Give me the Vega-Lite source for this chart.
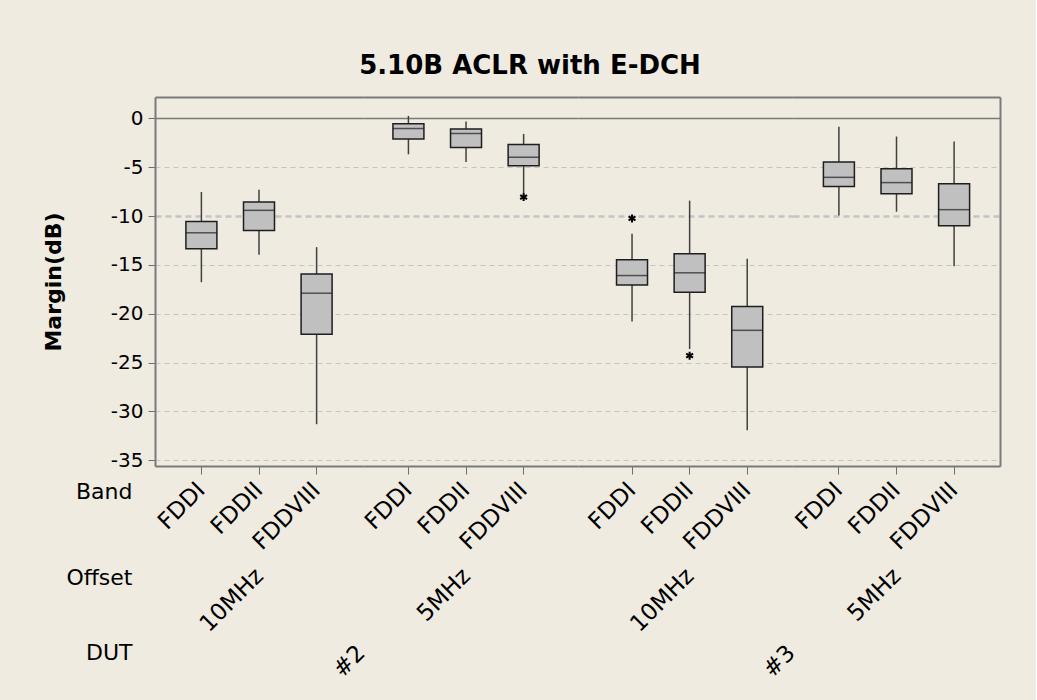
{
  "$schema": "https://vega.github.io/schema/vega-lite/v6.json",
  "background": "#EFEBE1",
  "padding": {"left": 42, "top": 53, "right": 36, "bottom": 20},
  "title": {"text": "5.10B ACLR with E-DCH", "font": "DejaVu Sans", "fontSize": 26, "fontWeight": "bold", "color": "black", "anchor": "middle", "frame": "group", "offset": 18, "dx": 375},
  "config": {
    "view": {"stroke": null},
    "axis": {"labelFont": "DejaVu Sans", "titleFont": "DejaVu Sans", "labelColor": "black", "titleColor": "black"}
  },
  "datasets": {
    "boxes": [
      {"DUT": "#2", "Offset": "10MHz", "Band": "FDDI", "lo": -16.77, "q1": -13.35, "med": -11.71, "q3": -10.55, "hi": -7.53},
      {"DUT": "#2", "Offset": "10MHz", "Band": "FDDII", "lo": -13.97, "q1": -11.47, "med": -9.41, "q3": -8.56, "hi": -7.29},
      {"DUT": "#2", "Offset": "10MHz", "Band": "FDDVIII", "lo": -31.32, "q1": -22.11, "med": -17.9, "q3": -15.92, "hi": -13.18},
      {"DUT": "#2", "Offset": "5MHz", "Band": "FDDI", "lo": -3.67, "q1": -2.09, "med": -1.03, "q3": -0.55, "hi": 0.27},
      {"DUT": "#2", "Offset": "5MHz", "Band": "FDDII", "lo": -4.45, "q1": -2.98, "med": -1.54, "q3": -1.07, "hi": -0.31},
      {"DUT": "#2", "Offset": "5MHz", "Band": "FDDVIII", "lo": -7.7, "q1": -4.83, "med": -3.97, "q3": -2.67, "hi": -1.58},
      {"DUT": "#3", "Offset": "10MHz", "Band": "FDDI", "lo": -20.81, "q1": -17.05, "med": -16.09, "q3": -14.48, "hi": -11.81},
      {"DUT": "#3", "Offset": "10MHz", "Band": "FDDII", "lo": -23.62, "q1": -17.8, "med": -15.81, "q3": -13.86, "hi": -8.42},
      {"DUT": "#3", "Offset": "10MHz", "Band": "FDDVIII", "lo": -31.93, "q1": -25.46, "med": -21.7, "q3": -19.27, "hi": -14.37},
      {"DUT": "#3", "Offset": "5MHz", "Band": "FDDI", "lo": -9.93, "q1": -6.98, "med": -6.03, "q3": -4.45, "hi": -0.86},
      {"DUT": "#3", "Offset": "5MHz", "Band": "FDDII", "lo": -9.55, "q1": -7.7, "med": -6.57, "q3": -5.14, "hi": -1.85},
      {"DUT": "#3", "Offset": "5MHz", "Band": "FDDVIII", "lo": -15.13, "q1": -10.99, "med": -9.34, "q3": -6.68, "hi": -2.36}
    ],
    "outliers": [
      {"DUT": "#2", "Offset": "5MHz", "Band": "FDDVIII", "v": -8.05},
      {"DUT": "#3", "Offset": "10MHz", "Band": "FDDI", "v": -10.24},
      {"DUT": "#3", "Offset": "10MHz", "Band": "FDDII", "v": -24.3}
    ]
  },
  "spacing": 0,
  "bounds": "flush",
  "hconcat": [
    {
      "width": 208, "height": 369,
      "resolve": {"axis": {"x": "independent", "y": "independent"}},
      "layer": [
        {"data": {"name": "boxes"}, "transform": [{"filter": "datum.DUT === '#2' && datum.Offset === '10MHz'"}],
         "mark": {"type": "rule", "stroke": "#404040", "strokeWidth": 1.5},
         "encoding": {
           "x": {"field": "Band", "type": "nominal", "scale": {"domain": ["FDDI", "FDDII", "FDDVIII"], "paddingInner": 0.462, "paddingOuter": 0.5365, "align": 0.5, "round": false},
             "axis": {"orient": "bottom", "domain": true, "domainColor": "#7A7A7A", "domainWidth": 2, "ticks": true, "tickColor": "#6E6E6E", "tickSize": 8, "labelAngle": 315, "labelAlign": "right", "labelBaseline": "middle", "labelPadding": 12, "labelFontSize": 23, "grid": false,
               "title": "Band", "titleFontSize": 22, "titleFontWeight": "normal", "titleAlign": "right", "titleAngle": 0, "titleBaseline": "top", "titleX": -23, "titleY": 15}},
           "y": {"field": "lo", "type": "quantitative", "scale": {"domain": [-35.6, 2.2], "nice": false, "zero": false},
             "axis": {"values": [-35, -30, -25, -20, -15, -10, -5, 0, 2.2], "labelExpr": "datum.value > 1 ? '' : '' + datum.value",
               "grid": true,
               "gridColor": {"condition": {"test": "datum.value > 1 || datum.value === 0", "value": "#7A7A7A"}, "value": "#C4C4C4"},
               "gridDash": {"condition": [{"test": "datum.value > 1 || datum.value === 0", "value": []}, {"test": "datum.value === -10", "value": [6, 4]}], "value": [5, 4]},
               "gridWidth": {"condition": [{"test": "datum.value > 1", "value": 2}, {"test": "datum.value === 0", "value": 1.5}, {"test": "datum.value === -10", "value": 2.5}], "value": 1},
               "domain": true, "domainColor": "#7A7A7A", "domainWidth": 2, "ticks": true, "tickColor": "#6E6E6E", "tickSize": 7,
               "tickOpacity": {"condition": {"test": "datum.value > 1", "value": 0}, "value": 1},
               "labelFontSize": 20, "labelPadding": 5, "title": "Margin(dB)", "titleFontSize": 22, "titleFontWeight": "bold", "titlePadding": 45}},
           "y2": {"field": "hi"}}},
        {"data": {"name": "boxes"}, "transform": [{"filter": "datum.DUT === '#2' && datum.Offset === '10MHz'"}],
         "mark": {"type": "bar", "fill": "#C0C0C0", "stroke": "#1E1E1E", "strokeWidth": 1.5},
         "encoding": {
           "x": {"field": "Band", "type": "nominal", "scale": {"domain": ["FDDI", "FDDII", "FDDVIII"], "paddingInner": 0.462, "paddingOuter": 0.5365, "align": 0.5, "round": false},
             "axis": {"orient": "bottom", "domain": false, "ticks": false, "labels": false, "grid": false,
               "title": ["Offset", "DUT"], "titleFontSize": 22, "titleFontWeight": "normal", "titleAlign": "right", "titleAngle": 0, "titleBaseline": "top", "titleX": -23, "titleY": 101.5, "titleLineHeight": 74.7}},
           "y": {"field": "q1", "type": "quantitative", "scale": {"domain": [-35.6, 2.2], "nice": false, "zero": false}, "axis": null},
           "y2": {"field": "q3"}}},
        {"data": {"name": "boxes"}, "transform": [{"filter": "datum.DUT === '#2' && datum.Offset === '10MHz'"}],
         "mark": {"type": "tick", "color": "#1E1E1E", "thickness": 1.5, "size": 31},
         "encoding": {
           "x": {"field": "Band", "type": "nominal", "scale": {"domain": ["FDDI", "FDDII", "FDDVIII"], "paddingInner": 0.462, "paddingOuter": 0.5365, "align": 0.5, "round": false},
             "axis": {"orient": "bottom", "domain": false, "ticks": false, "labels": false, "grid": false, "title": "10MHz", "titleFontSize": 23, "titleFontWeight": "normal", "titleAngle": 315, "titleAlign": "right", "titleBaseline": "middle", "titleX": 104, "titleY": 106}},
           "y": {"field": "med", "type": "quantitative", "scale": {"domain": [-35.6, 2.2], "nice": false, "zero": false}, "axis": null}}},
        {"data": {"name": "outliers"}, "transform": [{"filter": "datum.DUT === '#2' && datum.Offset === '10MHz'"}],
         "mark": {"type": "point", "shape": "M0,-1L0,1M-0.866,-0.5L0.866,0.5M-0.866,0.5L0.866,-0.5", "filled": false, "stroke": "black", "strokeWidth": 2, "size": 64, "opacity": 1},
         "encoding": {
           "x": {"field": "Band", "type": "nominal", "scale": {"domain": ["FDDI", "FDDII", "FDDVIII"], "paddingInner": 0.462, "paddingOuter": 0.5365, "align": 0.5, "round": false},
             "axis": {"orient": "bottom", "domain": false, "ticks": false, "labels": false, "grid": false, "title": "#2", "titleFontSize": 23, "titleFontWeight": "normal", "titleAngle": 315, "titleAlign": "right", "titleBaseline": "middle", "titleX": 206, "titleY": 183}},
           "y": {"field": "v", "type": "quantitative", "scale": {"domain": [-35.6, 2.2], "nice": false, "zero": false}, "axis": null}}}
      ]
    },
    {
      "width": 215, "height": 369,
      "resolve": {"axis": {"x": "independent", "y": "independent"}},
      "layer": [
        {"data": {"name": "boxes"}, "transform": [{"filter": "datum.DUT === '#2' && datum.Offset === '5MHz'"}],
         "mark": {"type": "rule", "stroke": "#404040", "strokeWidth": 1.5},
         "encoding": {
           "x": {"field": "Band", "type": "nominal", "scale": {"domain": ["FDDI", "FDDII", "FDDVIII"], "paddingInner": 0.462, "paddingOuter": 0.5973, "align": 0.435, "round": false},
             "axis": {"orient": "bottom", "domain": true, "domainColor": "#7A7A7A", "domainWidth": 2, "ticks": true, "tickColor": "#6E6E6E", "tickSize": 8, "labelAngle": 315, "labelAlign": "right", "labelBaseline": "middle", "labelPadding": 12, "labelFontSize": 23, "grid": false, "title": null}},
           "y": {"field": "lo", "type": "quantitative", "scale": {"domain": [-35.6, 2.2], "nice": false, "zero": false},
             "axis": {"values": [-35, -30, -25, -20, -15, -10, -5, 0, 2.2], "grid": true,
               "gridColor": {"condition": {"test": "datum.value > 1 || datum.value === 0", "value": "#7A7A7A"}, "value": "#C4C4C4"},
               "gridDash": {"condition": [{"test": "datum.value > 1 || datum.value === 0", "value": []}, {"test": "datum.value === -10", "value": [6, 4]}], "value": [5, 4]},
               "gridWidth": {"condition": [{"test": "datum.value > 1", "value": 2}, {"test": "datum.value === 0", "value": 1.5}, {"test": "datum.value === -10", "value": 2.5}], "value": 1},
               "domain": false, "ticks": false, "labels": false, "title": null}},
           "y2": {"field": "hi"}}},
        {"data": {"name": "boxes"}, "transform": [{"filter": "datum.DUT === '#2' && datum.Offset === '5MHz'"}],
         "mark": {"type": "bar", "fill": "#C0C0C0", "stroke": "#1E1E1E", "strokeWidth": 1.5},
         "encoding": {
           "x": {"field": "Band", "type": "nominal", "scale": {"domain": ["FDDI", "FDDII", "FDDVIII"], "paddingInner": 0.462, "paddingOuter": 0.5973, "align": 0.435, "round": false}, "axis": null},
           "y": {"field": "q1", "type": "quantitative", "scale": {"domain": [-35.6, 2.2], "nice": false, "zero": false}, "axis": null},
           "y2": {"field": "q3"}}},
        {"data": {"name": "boxes"}, "transform": [{"filter": "datum.DUT === '#2' && datum.Offset === '5MHz'"}],
         "mark": {"type": "tick", "color": "#1E1E1E", "thickness": 1.5, "size": 31},
         "encoding": {
           "x": {"field": "Band", "type": "nominal", "scale": {"domain": ["FDDI", "FDDII", "FDDVIII"], "paddingInner": 0.462, "paddingOuter": 0.5973, "align": 0.435, "round": false},
             "axis": {"orient": "bottom", "domain": false, "ticks": false, "labels": false, "grid": false, "title": "5MHz", "titleFontSize": 23, "titleFontWeight": "normal", "titleAngle": 315, "titleAlign": "right", "titleBaseline": "middle", "titleX": 103, "titleY": 106}},
           "y": {"field": "med", "type": "quantitative", "scale": {"domain": [-35.6, 2.2], "nice": false, "zero": false}, "axis": null}}},
        {"data": {"name": "outliers"}, "transform": [{"filter": "datum.DUT === '#2' && datum.Offset === '5MHz'"}],
         "mark": {"type": "point", "shape": "M0,-1L0,1M-0.866,-0.5L0.866,0.5M-0.866,0.5L0.866,-0.5", "filled": false, "stroke": "black", "strokeWidth": 2, "size": 64, "opacity": 1},
         "encoding": {
           "x": {"field": "Band", "type": "nominal", "scale": {"domain": ["FDDI", "FDDII", "FDDVIII"], "paddingInner": 0.462, "paddingOuter": 0.5973, "align": 0.435, "round": false}, "axis": null},
           "y": {"field": "v", "type": "quantitative", "scale": {"domain": [-35.6, 2.2], "nice": false, "zero": false}, "axis": null}}}
      ]
    },
    {
      "width": 215, "height": 369,
      "resolve": {"axis": {"x": "independent", "y": "independent"}},
      "layer": [
        {"data": {"name": "boxes"}, "transform": [{"filter": "datum.DUT === '#3' && datum.Offset === '10MHz'"}],
         "mark": {"type": "rule", "stroke": "#404040", "strokeWidth": 1.5},
         "encoding": {
           "x": {"field": "Band", "type": "nominal", "scale": {"domain": ["FDDI", "FDDII", "FDDVIII"], "paddingInner": 0.462, "paddingOuter": 0.5973, "align": 0.56, "round": false},
             "axis": {"orient": "bottom", "domain": true, "domainColor": "#7A7A7A", "domainWidth": 2, "ticks": true, "tickColor": "#6E6E6E", "tickSize": 8, "labelAngle": 315, "labelAlign": "right", "labelBaseline": "middle", "labelPadding": 12, "labelFontSize": 23, "grid": false, "title": null}},
           "y": {"field": "lo", "type": "quantitative", "scale": {"domain": [-35.6, 2.2], "nice": false, "zero": false},
             "axis": {"values": [-35, -30, -25, -20, -15, -10, -5, 0, 2.2], "grid": true,
               "gridColor": {"condition": {"test": "datum.value > 1 || datum.value === 0", "value": "#7A7A7A"}, "value": "#C4C4C4"},
               "gridDash": {"condition": [{"test": "datum.value > 1 || datum.value === 0", "value": []}, {"test": "datum.value === -10", "value": [6, 4]}], "value": [5, 4]},
               "gridWidth": {"condition": [{"test": "datum.value > 1", "value": 2}, {"test": "datum.value === 0", "value": 1.5}, {"test": "datum.value === -10", "value": 2.5}], "value": 1},
               "domain": false, "ticks": false, "labels": false, "title": null}},
           "y2": {"field": "hi"}}},
        {"data": {"name": "boxes"}, "transform": [{"filter": "datum.DUT === '#3' && datum.Offset === '10MHz'"}],
         "mark": {"type": "bar", "fill": "#C0C0C0", "stroke": "#1E1E1E", "strokeWidth": 1.5},
         "encoding": {
           "x": {"field": "Band", "type": "nominal", "scale": {"domain": ["FDDI", "FDDII", "FDDVIII"], "paddingInner": 0.462, "paddingOuter": 0.5973, "align": 0.56, "round": false}, "axis": null},
           "y": {"field": "q1", "type": "quantitative", "scale": {"domain": [-35.6, 2.2], "nice": false, "zero": false}, "axis": null},
           "y2": {"field": "q3"}}},
        {"data": {"name": "boxes"}, "transform": [{"filter": "datum.DUT === '#3' && datum.Offset === '10MHz'"}],
         "mark": {"type": "tick", "color": "#1E1E1E", "thickness": 1.5, "size": 31},
         "encoding": {
           "x": {"field": "Band", "type": "nominal", "scale": {"domain": ["FDDI", "FDDII", "FDDVIII"], "paddingInner": 0.462, "paddingOuter": 0.5973, "align": 0.56, "round": false},
             "axis": {"orient": "bottom", "domain": false, "ticks": false, "labels": false, "grid": false, "title": "10MHz", "titleFontSize": 23, "titleFontWeight": "normal", "titleAngle": 315, "titleAlign": "right", "titleBaseline": "middle", "titleX": 111.5, "titleY": 106}},
           "y": {"field": "med", "type": "quantitative", "scale": {"domain": [-35.6, 2.2], "nice": false, "zero": false}, "axis": null}}},
        {"data": {"name": "outliers"}, "transform": [{"filter": "datum.DUT === '#3' && datum.Offset === '10MHz'"}],
         "mark": {"type": "point", "shape": "M0,-1L0,1M-0.866,-0.5L0.866,0.5M-0.866,0.5L0.866,-0.5", "filled": false, "stroke": "black", "strokeWidth": 2, "size": 64, "opacity": 1},
         "encoding": {
           "x": {"field": "Band", "type": "nominal", "scale": {"domain": ["FDDI", "FDDII", "FDDVIII"], "paddingInner": 0.462, "paddingOuter": 0.5973, "align": 0.56, "round": false},
             "axis": {"orient": "bottom", "domain": false, "ticks": false, "labels": false, "grid": false, "title": "#3", "titleFontSize": 23, "titleFontWeight": "normal", "titleAngle": 315, "titleAlign": "right", "titleBaseline": "middle", "titleX": 213, "titleY": 183}},
           "y": {"field": "v", "type": "quantitative", "scale": {"domain": [-35.6, 2.2], "nice": false, "zero": false}, "axis": null}}}
      ]
    },
    {
      "width": 207, "height": 369,
      "resolve": {"axis": {"x": "independent", "y": "independent"}},
      "layer": [
        {"data": {"name": "boxes"}, "transform": [{"filter": "datum.DUT === '#3' && datum.Offset === '5MHz'"}],
         "mark": {"type": "rule", "stroke": "#404040", "strokeWidth": 1.5},
         "encoding": {
           "x": {"field": "Band", "type": "nominal", "scale": {"domain": ["FDDI", "FDDII", "FDDVIII"], "paddingInner": 0.462, "paddingOuter": 0.528, "align": 0.5, "round": false},
             "axis": {"orient": "bottom", "domain": true, "domainColor": "#7A7A7A", "domainWidth": 2, "ticks": true, "tickColor": "#6E6E6E", "tickSize": 8, "labelAngle": 315, "labelAlign": "right", "labelBaseline": "middle", "labelPadding": 12, "labelFontSize": 23, "grid": false, "title": null}},
           "y": {"field": "lo", "type": "quantitative", "scale": {"domain": [-35.6, 2.2], "nice": false, "zero": false},
             "axis": {"values": [-35, -30, -25, -20, -15, -10, -5, 0, 2.2], "grid": true,
               "gridColor": {"condition": {"test": "datum.value > 1 || datum.value === 0", "value": "#7A7A7A"}, "value": "#C4C4C4"},
               "gridDash": {"condition": [{"test": "datum.value > 1 || datum.value === 0", "value": []}, {"test": "datum.value === -10", "value": [6, 4]}], "value": [5, 4]},
               "gridWidth": {"condition": [{"test": "datum.value > 1", "value": 2}, {"test": "datum.value === 0", "value": 1.5}, {"test": "datum.value === -10", "value": 2.5}], "value": 1},
               "domain": false, "ticks": false, "labels": false, "title": null}},
           "y2": {"field": "hi"}}},
        {"data": {"name": "boxes"}, "transform": [{"filter": "datum.DUT === '#3' && datum.Offset === '5MHz'"}],
         "mark": {"type": "bar", "fill": "#C0C0C0", "stroke": "#1E1E1E", "strokeWidth": 1.5},
         "encoding": {
           "x": {"field": "Band", "type": "nominal", "scale": {"domain": ["FDDI", "FDDII", "FDDVIII"], "paddingInner": 0.462, "paddingOuter": 0.528, "align": 0.5, "round": false}, "axis": null},
           "y": {"field": "q1", "type": "quantitative", "scale": {"domain": [-35.6, 2.2], "nice": false, "zero": false}, "axis": null},
           "y2": {"field": "q3"}}},
        {"data": {"name": "boxes"}, "transform": [{"filter": "datum.DUT === '#3' && datum.Offset === '5MHz'"}],
         "mark": {"type": "tick", "color": "#1E1E1E", "thickness": 1.5, "size": 31},
         "encoding": {
           "x": {"field": "Band", "type": "nominal", "scale": {"domain": ["FDDI", "FDDII", "FDDVIII"], "paddingInner": 0.462, "paddingOuter": 0.528, "align": 0.5, "round": false},
             "axis": {"orient": "bottom", "domain": false, "ticks": false, "labels": false, "grid": false, "title": "5MHz", "titleFontSize": 23, "titleFontWeight": "normal", "titleAngle": 315, "titleAlign": "right", "titleBaseline": "middle", "titleX": 103.5, "titleY": 106}},
           "y": {"field": "med", "type": "quantitative", "scale": {"domain": [-35.6, 2.2], "nice": false, "zero": false},
             "axis": {"orient": "right", "domain": true, "domainColor": "#7A7A7A", "domainWidth": 2, "ticks": false, "labels": false, "grid": false, "title": null, "minExtent": 0}}}},
        {"data": {"name": "outliers"}, "transform": [{"filter": "datum.DUT === '#3' && datum.Offset === '5MHz'"}],
         "mark": {"type": "point", "shape": "M0,-1L0,1M-0.866,-0.5L0.866,0.5M-0.866,0.5L0.866,-0.5", "filled": false, "stroke": "black", "strokeWidth": 2, "size": 64, "opacity": 1},
         "encoding": {
           "x": {"field": "Band", "type": "nominal", "scale": {"domain": ["FDDI", "FDDII", "FDDVIII"], "paddingInner": 0.462, "paddingOuter": 0.528, "align": 0.5, "round": false}, "axis": null},
           "y": {"field": "v", "type": "quantitative", "scale": {"domain": [-35.6, 2.2], "nice": false, "zero": false}, "axis": null}}}
      ]
    }
  ]
}
